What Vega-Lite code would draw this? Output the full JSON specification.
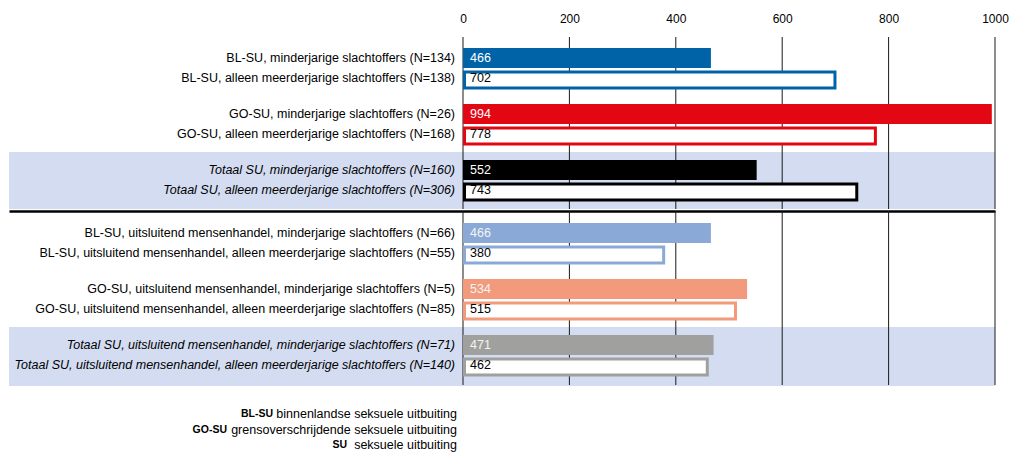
{
  "$schema": "https://vega.github.io/schema/vega-lite/v6.json",
  "padding": {"left": 9, "top": 7, "right": 0, "bottom": 0},
  "spacing": 0,
  "config": {"view": {"stroke": null}, "font": "Liberation Sans", "concat": {"spacing": 0}},
  "datasets": {
    "bars": [
      {"deel": "alle", "groep": "BL-SU", "soort": "min", "totaal": false, "waarde": 466, "label": "BL-SU, minderjarige slachtoffers (N=134)"},
      {"deel": "alle", "groep": "BL-SU", "soort": "meer", "totaal": false, "waarde": 702, "label": "BL-SU, alleen meerderjarige slachtoffers (N=138)"},
      {"deel": "alle", "groep": "GO-SU", "soort": "min", "totaal": false, "waarde": 994, "label": "GO-SU, minderjarige slachtoffers (N=26)"},
      {"deel": "alle", "groep": "GO-SU", "soort": "meer", "totaal": false, "waarde": 778, "label": "GO-SU, alleen meerderjarige slachtoffers (N=168)"},
      {"deel": "alle", "groep": "Totaal SU", "soort": "min", "totaal": true, "waarde": 552, "label": "Totaal SU, minderjarige slachtoffers (N=160)"},
      {"deel": "alle", "groep": "Totaal SU", "soort": "meer", "totaal": true, "waarde": 743, "label": "Totaal SU, alleen meerderjarige slachtoffers (N=306)"},
      {"deel": "mh", "groep": "BL-SU mh", "soort": "min", "totaal": false, "waarde": 466, "label": "BL-SU, uitsluitend mensenhandel, minderjarige slachtoffers (N=66)"},
      {"deel": "mh", "groep": "BL-SU mh", "soort": "meer", "totaal": false, "waarde": 380, "label": "BL-SU, uitsluitend mensenhandel, alleen meerderjarige slachtoffers (N=55)"},
      {"deel": "mh", "groep": "GO-SU mh", "soort": "min", "totaal": false, "waarde": 534, "label": "GO-SU, uitsluitend mensenhandel, minderjarige slachtoffers (N=5)"},
      {"deel": "mh", "groep": "GO-SU mh", "soort": "meer", "totaal": false, "waarde": 515, "label": "GO-SU, uitsluitend mensenhandel, alleen meerderjarige slachtoffers (N=85)"},
      {"deel": "mh", "groep": "Totaal SU mh", "soort": "min", "totaal": true, "waarde": 471, "label": "Totaal SU, uitsluitend mensenhandel, minderjarige slachtoffers (N=71)"},
      {"deel": "mh", "groep": "Totaal SU mh", "soort": "meer", "totaal": true, "waarde": 462, "label": "Totaal SU, uitsluitend mensenhandel, alleen meerderjarige slachtoffers (N=140)"}
    ],
    "grid": [{"v": 0}, {"v": 200}, {"v": 400}, {"v": 600}, {"v": 800}, {"v": 1000}],
    "legenda": [
      {"afk": "BL-SU", "tekst": "binnenlandse seksuele uitbuiting"},
      {"afk": "GO-SU", "tekst": "grensoverschrijdende seksuele uitbuiting"},
      {"afk": "SU", "tekst": "seksuele uitbuiting"}
    ]
  },
  "vconcat": [
    {
      "width": 986, "height": 172,
      "layer": [
        {"data": {"name": "bars"}, "transform": [{"filter": "datum.deel == 'alle' && datum.totaal && datum.soort == 'min'"}],
         "mark": {"type": "bar", "color": "#d3dcf0", "height": {"band": 1.425}, "yOffset": 0.5},
         "encoding": {"y": {"field": "groep", "type": "nominal", "scale": {"domain": ["BL-SU", "GO-SU", "Totaal SU"], "paddingInner": 0.2857, "paddingOuter": 0.1786, "align": 0.55}, "axis": null},
                      "x": {"datum": -853.4, "type": "quantitative", "scale": {"domain": [-853.4, 1000], "nice": false}}, "x2": {"datum": 1000}}},
        {"data": {"name": "grid"}, "mark": {"type": "rule", "color": "#1a1a1a", "strokeWidth": 1},
         "encoding": {"x": {"field": "v", "type": "quantitative", "scale": {"domain": [-853.4, 1000], "nice": false},
                            "axis": {"orient": "top", "values": [0, 200, 400, 600, 800, 1000], "format": "d", "ticks": false, "domain": false, "grid": false, "title": null, "labelFontSize": 12, "labelColor": "#000", "labelPadding": 12, "labelFlush": false, "minExtent": 30, "maxExtent": 30}}}},
        {"data": {"name": "bars"}, "transform": [{"filter": "datum.deel == 'alle' && datum.soort == 'min'"}],
         "mark": {"type": "bar"},
         "encoding": {"y": {"field": "groep", "type": "nominal", "scale": {"domain": ["BL-SU", "GO-SU", "Totaal SU"], "paddingInner": 0.2857, "paddingOuter": 0.1786, "align": 0.55}, "axis": null},
                      "yOffset": {"field": "soort", "type": "nominal", "scale": {"domain": ["min", "meer"], "paddingInner": 0, "paddingOuter": 0}},
                      "x": {"field": "waarde", "type": "quantitative", "scale": {"domain": [-853.4, 1000], "nice": false}}, "x2": {"datum": 0},
                      "color": {"field": "groep", "type": "nominal", "scale": {"domain": ["BL-SU", "GO-SU", "Totaal SU", "BL-SU mh", "GO-SU mh", "Totaal SU mh"], "range": ["#0063a8", "#e30613", "#000000", "#8aa9d6", "#f29a7b", "#a0a09f"]}, "legend": null}}},
        {"data": {"name": "bars"}, "transform": [{"filter": "datum.deel == 'alle' && datum.soort == 'meer'"}],
         "mark": {"type": "bar", "fill": "white", "strokeWidth": 3, "height": {"band": 0.8}, "xOffset": -1.5, "x2Offset": 1.5},
         "encoding": {"y": {"field": "groep", "type": "nominal", "scale": {"domain": ["BL-SU", "GO-SU", "Totaal SU"], "paddingInner": 0.2857, "paddingOuter": 0.1786, "align": 0.55}, "axis": null},
                      "yOffset": {"field": "soort", "type": "nominal", "scale": {"domain": ["min", "meer"], "paddingInner": 0, "paddingOuter": 0}},
                      "x": {"field": "waarde", "type": "quantitative", "scale": {"domain": [-853.4, 1000], "nice": false}}, "x2": {"datum": 0},
                      "stroke": {"field": "groep", "type": "nominal", "scale": {"domain": ["BL-SU", "GO-SU", "Totaal SU", "BL-SU mh", "GO-SU mh", "Totaal SU mh"], "range": ["#0063a8", "#e30613", "#000000", "#8aa9d6", "#f29a7b", "#a0a09f"]}, "legend": null}}},
        {"data": {"name": "bars"}, "transform": [{"filter": "datum.deel == 'alle' && datum.soort == 'min'"}],
         "mark": {"type": "text", "align": "left", "dx": 7, "fontSize": 12.5, "baseline": "middle", "color": "#ffffff"},
         "encoding": {"y": {"field": "groep", "type": "nominal", "scale": {"domain": ["BL-SU", "GO-SU", "Totaal SU"], "paddingInner": 0.2857, "paddingOuter": 0.1786, "align": 0.55}, "axis": null},
                      "yOffset": {"field": "soort", "type": "nominal", "scale": {"domain": ["min", "meer"], "paddingInner": 0, "paddingOuter": 0}},
                      "x": {"datum": 0, "type": "quantitative", "scale": {"domain": [-853.4, 1000], "nice": false}},
                      "text": {"field": "waarde"}}},
        {"data": {"name": "bars"}, "transform": [{"filter": "datum.deel == 'alle' && datum.soort == 'meer'"}],
         "mark": {"type": "text", "align": "left", "dx": 7, "fontSize": 12.5, "baseline": "middle", "color": "#000000"},
         "encoding": {"y": {"field": "groep", "type": "nominal", "scale": {"domain": ["BL-SU", "GO-SU", "Totaal SU"], "paddingInner": 0.2857, "paddingOuter": 0.1786, "align": 0.55}, "axis": null},
                      "yOffset": {"field": "soort", "type": "nominal", "scale": {"domain": ["min", "meer"], "paddingInner": 0, "paddingOuter": 0}},
                      "x": {"datum": 0, "type": "quantitative", "scale": {"domain": [-853.4, 1000], "nice": false}},
                      "text": {"field": "waarde"}}},
        {"data": {"name": "bars"}, "transform": [{"filter": "datum.deel == 'alle' && !datum.totaal"}],
         "mark": {"type": "text", "align": "right", "dx": -8, "fontSize": 12.5, "color": "#000", "baseline": "middle"},
         "encoding": {"y": {"field": "groep", "type": "nominal", "scale": {"domain": ["BL-SU", "GO-SU", "Totaal SU"], "paddingInner": 0.2857, "paddingOuter": 0.1786, "align": 0.55}, "axis": null},
                      "yOffset": {"field": "soort", "type": "nominal", "scale": {"domain": ["min", "meer"], "paddingInner": 0, "paddingOuter": 0}},
                      "x": {"datum": 0, "type": "quantitative", "scale": {"domain": [-853.4, 1000], "nice": false}},
                      "text": {"field": "label"}}},
        {"data": {"name": "bars"}, "transform": [{"filter": "datum.deel == 'alle' && datum.totaal"}],
         "mark": {"type": "text", "align": "right", "dx": -8, "fontSize": 12.5, "fontStyle": "italic", "color": "#000", "baseline": "middle"},
         "encoding": {"y": {"field": "groep", "type": "nominal", "scale": {"domain": ["BL-SU", "GO-SU", "Totaal SU"], "paddingInner": 0.2857, "paddingOuter": 0.1786, "align": 0.55}, "axis": null},
                      "yOffset": {"field": "soort", "type": "nominal", "scale": {"domain": ["min", "meer"], "paddingInner": 0, "paddingOuter": 0}},
                      "x": {"datum": 0, "type": "quantitative", "scale": {"domain": [-853.4, 1000], "nice": false}},
                      "text": {"field": "label"}}}
      ]
    },
    {
      "width": 986, "height": 174,
      "layer": [
        {"data": {"name": "bars"}, "transform": [{"filter": "datum.deel == 'mh' && datum.totaal && datum.soort == 'min'"}],
         "mark": {"type": "bar", "color": "#d3dcf0", "height": {"band": 1.475}, "yOffset": 1.5},
         "encoding": {"y": {"field": "groep", "type": "nominal", "scale": {"domain": ["BL-SU mh", "GO-SU mh", "Totaal SU mh"], "paddingInner": 0.2857, "paddingOuter": 0.1964, "align": 0.55}, "axis": null},
                      "x": {"datum": -853.4, "type": "quantitative", "scale": {"domain": [-853.4, 1000], "nice": false}}, "x2": {"datum": 1000}}},
        {"data": {"name": "grid"}, "mark": {"type": "rule", "color": "#1a1a1a", "strokeWidth": 1},
         "encoding": {"x": {"field": "v", "type": "quantitative", "scale": {"domain": [-853.4, 1000], "nice": false},
                            "axis": {"orient": "top", "values": [0, 200, 400, 600, 800, 1000], "ticks": false, "labels": false, "domain": true, "domainColor": "#000", "domainWidth": 2.5, "grid": false, "title": null, "minExtent": 0, "maxExtent": 0}}}},
        {"data": {"name": "bars"}, "transform": [{"filter": "datum.deel == 'mh' && datum.soort == 'min'"}],
         "mark": {"type": "bar"},
         "encoding": {"y": {"field": "groep", "type": "nominal", "scale": {"domain": ["BL-SU mh", "GO-SU mh", "Totaal SU mh"], "paddingInner": 0.2857, "paddingOuter": 0.1964, "align": 0.55}, "axis": null},
                      "yOffset": {"field": "soort", "type": "nominal", "scale": {"domain": ["min", "meer"], "paddingInner": 0, "paddingOuter": 0}},
                      "x": {"field": "waarde", "type": "quantitative", "scale": {"domain": [-853.4, 1000], "nice": false}}, "x2": {"datum": 0},
                      "color": {"field": "groep", "type": "nominal", "scale": {"domain": ["BL-SU", "GO-SU", "Totaal SU", "BL-SU mh", "GO-SU mh", "Totaal SU mh"], "range": ["#0063a8", "#e30613", "#000000", "#8aa9d6", "#f29a7b", "#a0a09f"]}, "legend": null}}},
        {"data": {"name": "bars"}, "transform": [{"filter": "datum.deel == 'mh' && datum.soort == 'meer'"}],
         "mark": {"type": "bar", "fill": "white", "strokeWidth": 3, "height": {"band": 0.8}, "xOffset": -1.5, "x2Offset": 1.5},
         "encoding": {"y": {"field": "groep", "type": "nominal", "scale": {"domain": ["BL-SU mh", "GO-SU mh", "Totaal SU mh"], "paddingInner": 0.2857, "paddingOuter": 0.1964, "align": 0.55}, "axis": null},
                      "yOffset": {"field": "soort", "type": "nominal", "scale": {"domain": ["min", "meer"], "paddingInner": 0, "paddingOuter": 0}},
                      "x": {"field": "waarde", "type": "quantitative", "scale": {"domain": [-853.4, 1000], "nice": false}}, "x2": {"datum": 0},
                      "stroke": {"field": "groep", "type": "nominal", "scale": {"domain": ["BL-SU", "GO-SU", "Totaal SU", "BL-SU mh", "GO-SU mh", "Totaal SU mh"], "range": ["#0063a8", "#e30613", "#000000", "#8aa9d6", "#f29a7b", "#a0a09f"]}, "legend": null}}},
        {"data": {"name": "bars"}, "transform": [{"filter": "datum.deel == 'mh' && datum.soort == 'min'"}],
         "mark": {"type": "text", "align": "left", "dx": 7, "fontSize": 12.5, "baseline": "middle", "color": "#f4f4f4"},
         "encoding": {"y": {"field": "groep", "type": "nominal", "scale": {"domain": ["BL-SU mh", "GO-SU mh", "Totaal SU mh"], "paddingInner": 0.2857, "paddingOuter": 0.1964, "align": 0.55}, "axis": null},
                      "yOffset": {"field": "soort", "type": "nominal", "scale": {"domain": ["min", "meer"], "paddingInner": 0, "paddingOuter": 0}},
                      "x": {"datum": 0, "type": "quantitative", "scale": {"domain": [-853.4, 1000], "nice": false}},
                      "text": {"field": "waarde"}}},
        {"data": {"name": "bars"}, "transform": [{"filter": "datum.deel == 'mh' && datum.soort == 'meer'"}],
         "mark": {"type": "text", "align": "left", "dx": 7, "fontSize": 12.5, "baseline": "middle", "color": "#000000"},
         "encoding": {"y": {"field": "groep", "type": "nominal", "scale": {"domain": ["BL-SU mh", "GO-SU mh", "Totaal SU mh"], "paddingInner": 0.2857, "paddingOuter": 0.1964, "align": 0.55}, "axis": null},
                      "yOffset": {"field": "soort", "type": "nominal", "scale": {"domain": ["min", "meer"], "paddingInner": 0, "paddingOuter": 0}},
                      "x": {"datum": 0, "type": "quantitative", "scale": {"domain": [-853.4, 1000], "nice": false}},
                      "text": {"field": "waarde"}}},
        {"data": {"name": "bars"}, "transform": [{"filter": "datum.deel == 'mh' && !datum.totaal"}],
         "mark": {"type": "text", "align": "right", "dx": -8, "fontSize": 12.5, "color": "#000", "baseline": "middle"},
         "encoding": {"y": {"field": "groep", "type": "nominal", "scale": {"domain": ["BL-SU mh", "GO-SU mh", "Totaal SU mh"], "paddingInner": 0.2857, "paddingOuter": 0.1964, "align": 0.55}, "axis": null},
                      "yOffset": {"field": "soort", "type": "nominal", "scale": {"domain": ["min", "meer"], "paddingInner": 0, "paddingOuter": 0}},
                      "x": {"datum": 0, "type": "quantitative", "scale": {"domain": [-853.4, 1000], "nice": false}},
                      "text": {"field": "label"}}},
        {"data": {"name": "bars"}, "transform": [{"filter": "datum.deel == 'mh' && datum.totaal"}],
         "mark": {"type": "text", "align": "right", "dx": -8, "fontSize": 12.5, "fontStyle": "italic", "color": "#000", "baseline": "middle"},
         "encoding": {"y": {"field": "groep", "type": "nominal", "scale": {"domain": ["BL-SU mh", "GO-SU mh", "Totaal SU mh"], "paddingInner": 0.2857, "paddingOuter": 0.1964, "align": 0.55}, "axis": null},
                      "yOffset": {"field": "soort", "type": "nominal", "scale": {"domain": ["min", "meer"], "paddingInner": 0, "paddingOuter": 0}},
                      "x": {"datum": 0, "type": "quantitative", "scale": {"domain": [-853.4, 1000], "nice": false}},
                      "text": {"field": "label"}}}
      ]
    },
    {
      "width": 986, "height": 67,
      "data": {"name": "legenda"},
      "layer": [
        {"mark": {"type": "text", "align": "right", "dx": -6, "fontSize": 12.5, "color": "#000", "baseline": "middle"},
         "encoding": {"x": {"datum": 0, "type": "quantitative", "scale": {"domain": [-853.4, 1000], "nice": false}, "axis": null},
                      "y": {"field": "afk", "type": "nominal", "scale": {"type": "point", "domain": ["BL-SU", "GO-SU", "SU"], "range": [27, 58], "padding": 0}, "axis": null},
                      "text": {"field": "tekst"}}},
        {"transform": [{"filter": "datum.afk == 'BL-SU'"}],
         "mark": {"type": "text", "align": "right", "dx": -190, "fontSize": 10.5, "fontWeight": "bold", "color": "#000", "baseline": "middle"},
         "encoding": {"x": {"datum": 0, "type": "quantitative", "scale": {"domain": [-853.4, 1000], "nice": false}, "axis": null},
                      "y": {"field": "afk", "type": "nominal", "scale": {"type": "point", "domain": ["BL-SU", "GO-SU", "SU"], "range": [27, 58], "padding": 0}, "axis": null},
                      "text": {"field": "afk"}}},
        {"transform": [{"filter": "datum.afk == 'GO-SU'"}],
         "mark": {"type": "text", "align": "right", "dx": -236, "fontSize": 10.5, "fontWeight": "bold", "color": "#000", "baseline": "middle"},
         "encoding": {"x": {"datum": 0, "type": "quantitative", "scale": {"domain": [-853.4, 1000], "nice": false}, "axis": null},
                      "y": {"field": "afk", "type": "nominal", "scale": {"type": "point", "domain": ["BL-SU", "GO-SU", "SU"], "range": [27, 58], "padding": 0}, "axis": null},
                      "text": {"field": "afk"}}},
        {"transform": [{"filter": "datum.afk == 'SU'"}],
         "mark": {"type": "text", "align": "right", "dx": -116, "fontSize": 10.5, "fontWeight": "bold", "color": "#000", "baseline": "middle"},
         "encoding": {"x": {"datum": 0, "type": "quantitative", "scale": {"domain": [-853.4, 1000], "nice": false}, "axis": null},
                      "y": {"field": "afk", "type": "nominal", "scale": {"type": "point", "domain": ["BL-SU", "GO-SU", "SU"], "range": [27, 58], "padding": 0}, "axis": null},
                      "text": {"field": "afk"}}}
      ]
    }
  ]
}
